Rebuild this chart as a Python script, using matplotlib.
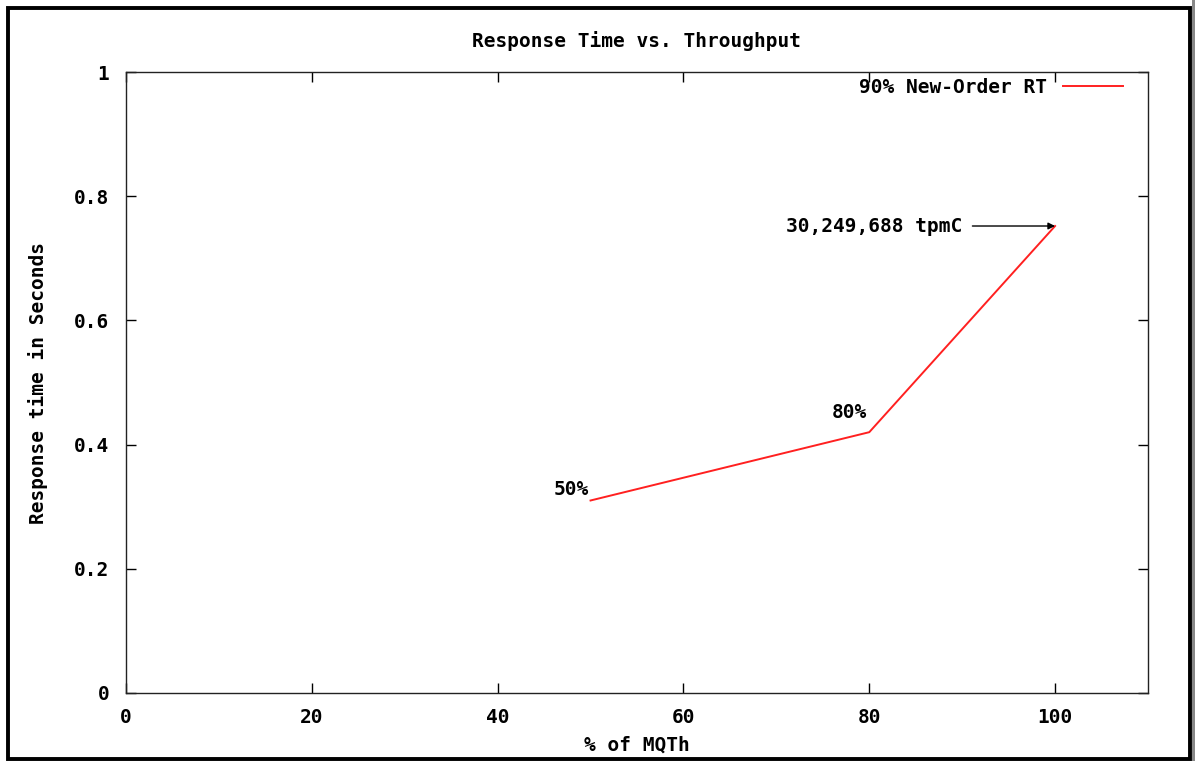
import matplotlib.pyplot as plt
from matplotlib.patches import Rectangle

# data
pct_mqth = [50, 80, 100]
resp_time = [0.31, 0.42, 0.752]
point_labels = ["50%", "80%"]
label_pos = [(49.8, 0.328), (79.8, 0.451)]
tpmc_text = "30,249,688 tpmC"

x_ticks = [0, 20, 40, 60, 80, 100]
y_ticks = [0, 0.2, 0.4, 0.6, 0.8, 1.0]
y_tick_labels = ["0", "0.2", "0.4", "0.6", "0.8", "1"]

FONT = dict(family="DejaVu Sans Mono", weight="bold", size=14)


def main():
    fig = plt.figure(figsize=(11.95, 7.61), dpi=100)
    W, H = 1195, 761

    # outer frame with a bit of shadow, like the screenshot
    fig.patches.append(Rectangle((1192 / W, 0), 3 / W, 1, transform=fig.transFigure,
                                 facecolor="#888888", edgecolor="none"))
    fig.patches.append(Rectangle((7.5 / W, 2 / H), 1182 / W, 751 / H, transform=fig.transFigure,
                                 facecolor="none", edgecolor="black", linewidth=2.8))

    ax = fig.add_axes([126 / W, 1 - 693 / H, (1148 - 126) / W, (693 - 72) / H])

    ax.plot(pct_mqth, resp_time, color="#ff2020", linewidth=1.4, label="90% New-Order RT")

    for txt, (lx, ly) in zip(point_labels, label_pos):
        ax.text(lx, ly, txt, ha="right", va="center", **FONT)

    ax.text(90.0, resp_time[-1], tpmc_text, ha="right", va="center", **FONT)
    ax.annotate("", xy=(pct_mqth[-1], resp_time[-1]), xytext=(91.1, resp_time[-1]),
                arrowprops=dict(arrowstyle="-|>", color="black", lw=1.0,
                                mutation_scale=10, shrinkA=0, shrinkB=0))

    ax.set_xlim(0, 110)
    ax.set_ylim(0, 1)
    ax.set_xticks(x_ticks)
    ax.set_xticklabels([str(t) for t in x_ticks], **FONT)
    ax.set_yticks(y_ticks)
    ax.set_yticklabels(y_tick_labels, **FONT)
    ax.tick_params(axis="x", direction="in", length=7, width=1, top=True, pad=11)
    ax.tick_params(axis="y", direction="in", length=7, width=1, right=True, pad=12)

    for s in ax.spines.values():
        s.set_linewidth(1.0)
        s.set_color("#222222")

    ax.set_title("Response Time vs. Throughput", pad=18, **FONT)
    ax.set_xlabel("% of MQTh", labelpad=6, **FONT)
    ax.set_ylabel("Response time in Seconds", labelpad=19, **FONT)

    ax.legend(loc="upper right", bbox_to_anchor=(0.9755, 0.991), frameon=False,
              markerfirst=False, borderaxespad=0, borderpad=0,
              prop=dict(family="DejaVu Sans Mono", weight="bold", size=14),
              handlelength=3.1, handletextpad=0.8)

    fig.savefig("out.png", dpi=100)
    plt.close(fig)


if __name__ == "__main__":
    main()
